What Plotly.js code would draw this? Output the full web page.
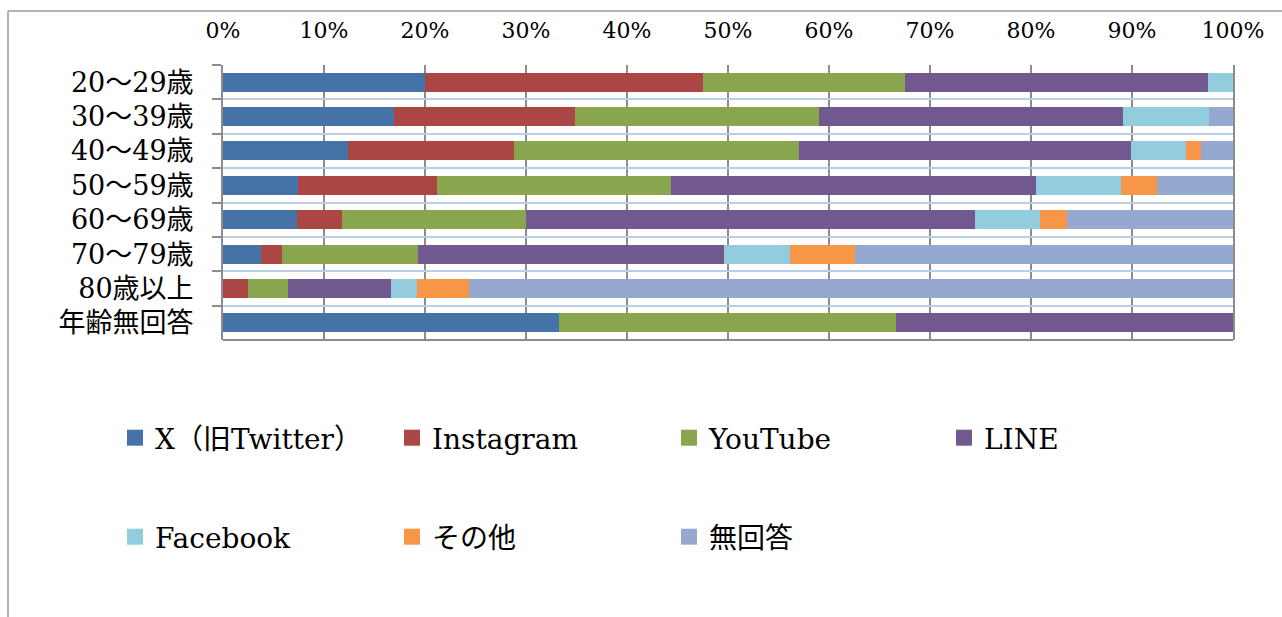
<!DOCTYPE html>
<html>
<head>
<meta charset="utf-8">
<script src="https://cdn.plot.ly/plotly-3.0.1.min.js"></script>
<style>
html,body{margin:0;padding:0;background:#fff;}
#chart{width:1282px;height:617px;}
</style>
</head>
<body>
<div id="chart"></div>
<script>
// Age groups (top to bottom)
const categories = ['20～29歳','30～39歳','40～49歳','50～59歳','60～69歳','70～79歳','80歳以上','年齢無回答'];

// Share of respondents (%) per platform
const seriesNames = ['X（旧Twitter）','Instagram','YouTube','LINE','Facebook','その他','無回答'];
const xTwitter  = [20.0, 16.9, 12.4,  7.4,  7.3,  3.8,  0.0, 33.3];
const instagram = [27.5, 18.0, 16.4, 13.8,  4.5,  2.0,  2.5,  0.0];
const youtube   = [20.0, 24.1, 28.2, 23.2, 18.2, 13.5,  3.9, 33.3];
const line      = [30.0, 30.1, 32.9, 36.1, 44.5, 30.3, 10.2, 33.4];
const facebook  = [ 2.5,  8.5,  5.4,  8.4,  6.4,  6.5,  2.6,  0.0];
const other     = [ 0.0,  0.0,  1.5,  3.6,  2.7,  6.5,  5.2,  0.0];
const noAnswer  = [ 0.0,  2.4,  3.2,  7.5, 16.4, 37.4, 75.6,  0.0];

const seriesValues = [xTwitter, instagram, youtube, line, facebook, other, noAnswer];
const colors = ['#4572A7','#AA4643','#89A54E','#71588F','#93CDDD','#F79646','#95A9D0'];
// which legend box each entry goes into (row 1: legend + legend3, row 2: legend2)
const legendOf = ['legend','legend','legend','legend3','legend2','legend2','legend2'];

const serif = '"DejaVu Serif", "Noto Sans CJK JP", serif';

const traces = [];
seriesValues.forEach((vals, i) => {
  traces.push({
    type: 'bar',
    orientation: 'h',
    name: seriesNames[i],
    y: categories,
    x: vals,
    marker: {color: colors[i], line: {width: 0}},
    showlegend: false,
    legendgroup: 'g' + i,
    hoverinfo: 'name+x'
  });
});
// legend entries (larger square swatches)
seriesValues.forEach((vals, i) => {
  traces.push({
    type: 'scatter',
    mode: 'markers',
    name: seriesNames[i],
    x: [null],
    y: [null],
    marker: {color: colors[i], symbol: 'square', size: 17},
    legendgroup: 'g' + i,
    legend: legendOf[i],
    showlegend: true,
    hoverinfo: 'skip'
  });
});

const L = 223, T = 65, W = 1282, H = 617, R = 49, B = 277;
const pw = W - L - R, ph = H - T - B;
const px2x = p => (p - L) / pw;
const py2y = p => (H - B - p) / ph;

const legendCommon = {
  orientation: 'h',
  xref: 'container', yref: 'container',
  xanchor: 'left', yanchor: 'middle',
  entrywidth: 232, entrywidthmode: 'pixels',
  font: {family: serif, size: 28, color: '#000'},
  bgcolor: 'rgba(0,0,0,0)',
  borderwidth: 0
};

const layout = {
  width: W, height: H,
  margin: {l: L, r: R, t: T, b: B, pad: 0},
  paper_bgcolor: '#ffffff',
  plot_bgcolor: '#ffffff',
  barmode: 'stack',
  barnorm: 'percent',
  bargap: 0.45,
  font: {family: serif, color: '#000'},
  xaxis: {
    side: 'top',
    range: [0, 100],
    dtick: 10,
    tick0: 0,
    ticksuffix: '%',
    showgrid: true,
    gridcolor: '#8c8c8c',
    gridwidth: 2,
    zeroline: false,
    showline: false,
    ticks: '',
    ticklabelstandoff: 22,
    tickfont: {family: serif, size: 22, color: '#000'},
    fixedrange: true
  },
  yaxis: {
    type: 'category',
    autorange: 'reversed',
    tickson: 'boundaries',
    showgrid: true,
    gridcolor: '#b9cde6',
    gridwidth: 2,
    showline: true,
    linecolor: '#8c8c8c',
    linewidth: 2,
    mirror: true,
    ticks: 'outside',
    ticklen: 9,
    tickwidth: 2,
    tickcolor: '#8c8c8c',
    ticklabelstandoff: 22,
    tickfont: {family: serif, size: 27, color: '#000'},
    fixedrange: true
  },
  legend: Object.assign({}, legendCommon, {x: 115 / W, y: 1 - 438 / H}),
  legend3: Object.assign({}, legendCommon, {x: 944 / W, y: 1 - 438 / H}),
  legend2: Object.assign({}, legendCommon, {x: 115 / W, y: 1 - 537 / H}),
  shapes: [
    // bottom axis line of the plot area
    {type: 'line', xref: 'paper', yref: 'paper', x0: 0, x1: 1, y0: 0, y1: 0,
     line: {color: '#8c8c8c', width: 2}},
    // outer chart frame (top and left edges visible)
    {type: 'line', xref: 'paper', yref: 'paper', x0: px2x(8), x1: px2x(1300), y0: py2y(11), y1: py2y(11),
     line: {color: '#9a9a9a', width: 1.5}},
    {type: 'line', xref: 'paper', yref: 'paper', x0: px2x(8), x1: px2x(8), y0: py2y(11), y1: py2y(700),
     line: {color: '#9a9a9a', width: 1.5}}
  ]
};

Plotly.newPlot('chart', traces, layout, {displayModeBar: false, staticPlot: true});
</script>
</body>
</html>
